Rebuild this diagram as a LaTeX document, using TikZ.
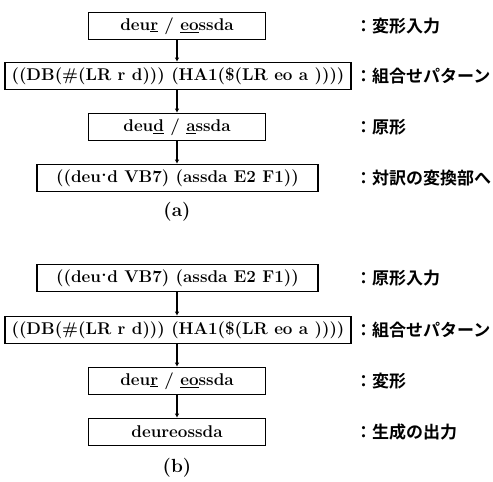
\documentclass[tikz,border=0pt]{standalone}
\usepackage{fontspec}
\newfontfamily\cjk{Noto Sans CJK JP}[BoldFont=* Bold]
\usetikzlibrary{arrows.meta}
\tikzset{
  box/.style={draw, line width=1.6pt, minimum height=27pt, inner sep=0pt, font=\fontsize{17}{19}\selectfont\bfseries},
  lbl/.style={anchor=west, inner sep=0pt, font=\fontsize{17}{19}\selectfont\cjk\bfseries},
  captxt/.style={inner sep=0pt, font=\fontsize{19}{21}\selectfont\bfseries},
  conn/.style={line width=1.6pt, -{Latex[length=4pt,width=4.5pt]}}
}
\newcommand{\cdt}{\kern0.5pt\raisebox{0.32em}{.}\kern0.5pt}
\begin{document}
\begin{tikzpicture}[x=1pt,y=-1pt]
\useasboundingbox (0,0) rectangle (493,482);
% (a)
\node[box, minimum width=177pt] (a1) at (177,26) {deu\underline{r} / \underline{eo}ssda};
\node[box, minimum width=346pt] (a2) at (178,76) {((DB(\#(LR r d))) (HA1(\$(LR eo a ))))};
\node[box, minimum width=177pt] (a3) at (177,127) {deu\underline{d} / \underline{a}ssda};
\node[box, minimum width=281pt] (a4) at (177.5,178) {((deu\cdt d VB7) (assda E2 F1))};
\node[captxt] (acap) at (177,212) {(a)};
\draw[conn] (a1.south -| acap) -- (a2.north -| acap);
\draw[conn] (a2.south -| acap) -- (a3.north -| acap);
\draw[conn] (a3.south -| acap) -- (a4.north -| acap);
\node[lbl] (la1) at (355,26) {：変形入力};
\node[lbl] (la2) at (355,76) {：組合せパターン};
\node[lbl] (la3) at (355,127) {：原形};
\node[lbl] (la4) at (355,178) {：対訳の変換部へ};
% (b)
\node[box, minimum width=281pt] (b1) at (177.5,278) {((deu\cdt d VB7) (assda E2 F1))};
\node[box, minimum width=346pt] (b2) at (178,330) {((DB(\#(LR r d))) (HA1(\$(LR eo a ))))};
\node[box, minimum width=177pt] (b3) at (177,381) {deu\underline{r} / \underline{eo}ssda};
\node[box, minimum width=177pt] (b4) at (177,432) {deureossda};
\node[captxt] (bcap) at (177,468) {(b)};
\draw[conn] (b1.south -| bcap) -- (b2.north -| bcap);
\draw[conn] (b2.south -| bcap) -- (b3.north -| bcap);
\draw[conn] (b3.south -| bcap) -- (b4.north -| bcap);
\node[lbl] (lb1) at (355,278) {：原形入力};
\node[lbl] (lb2) at (355,330) {：組合せパターン};
\node[lbl] (lb3) at (355,381) {：変形};
\node[lbl] (lb4) at (355,432) {：生成の出力};
\end{tikzpicture}
\end{document}
